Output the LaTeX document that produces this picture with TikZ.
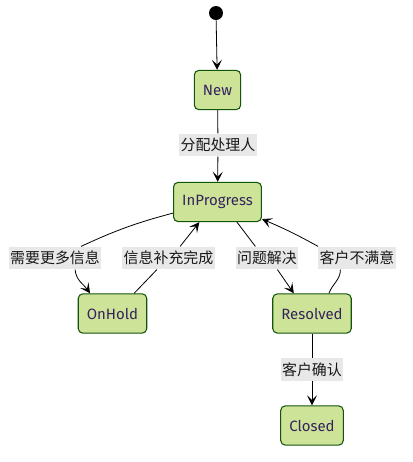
\documentclass[tikz,border=0pt]{standalone}
\usepackage{fontspec}
\setmainfont{Fira Sans}
\newfontfamily\cjk{Noto Sans CJK SC}
\usepackage{tikz}
\usetikzlibrary{arrows.meta}
\definecolor{statefill}{HTML}{CDE498}
\definecolor{stateline}{HTML}{13540C}
\definecolor{statetext}{HTML}{34225E}
\definecolor{lblfill}{HTML}{E8E8E8}
\tikzset{>/.tip={Stealth[length=7.5pt,width=7.5pt,inset=3.5pt]},
  state/.style={draw=stateline, fill=statefill, rounded corners=3.5pt, line width=0.8pt,
    minimum height=29.5pt, inner xsep=6.5pt, text=statetext, font=\fontsize{11.2}{12}\selectfont},
  lbl/.style={fill=lblfill, inner xsep=1pt, inner ysep=0pt, minimum height=17pt,
    text=black!90, font=\cjk\fontsize{11.2}{12}\selectfont},
  arr/.style={->, line width=0.6pt}}
\begin{document}
\begin{tikzpicture}[x=0.75pt, y=-0.75pt]
\useasboundingbox (0,0) rectangle (412,462);
\node[circle, fill=black, inner sep=0pt, minimum size=10.5pt] (start) at (216,13) {};
\node[state] (new)    at (217.5,90) {New};
\node[state] (ip)     at (217.5,202) {InProgress};
\node[state] (oh)     at (112.5,313.5) {OnHold};
\node[state] (res)    at (312,313.5) {Resolved};
\node[state] (closed) at (312,425.5) {Closed};
\node[lbl] (l0) at (218,145)   {分配处理人};
\node[lbl] (l1) at (55,258)    {需要更多信息};
\node[lbl] (l2) at (168.5,258) {信息补充完成};
\node[lbl] (l3) at (267,258)   {问题解决};
\node[lbl] (l4) at (357,258)   {客户不满意};
\node[lbl] (l5) at (312,369.5) {客户确认};
\draw[arr] (start) -- (new);
\draw[line width=0.6pt] (new) -- (l0);
\draw[arr] (l0) -- (ip);
\draw[line width=0.6pt] (ip) to[bend right=5] (l1);
\draw[arr] (l1.-30) to[out=-85,in=125] (oh.138);
\draw[line width=0.6pt] (oh.43) -- (l2.-135);
\draw[arr] (l2.45) -- (ip.228);
\draw[line width=0.6pt] (ip.-46) -- (l3.135);
\draw[arr] (l3.-48) -- (res.132);
\draw[line width=0.6pt] (res.50) to[out=70,in=-90] (l4.-145);
\draw[arr] (l4.north west) to[bend right=3] (ip.-21);
\draw[line width=0.6pt] (res) -- (l5);
\draw[arr] (l5) -- (closed);
\end{tikzpicture}
\end{document}
